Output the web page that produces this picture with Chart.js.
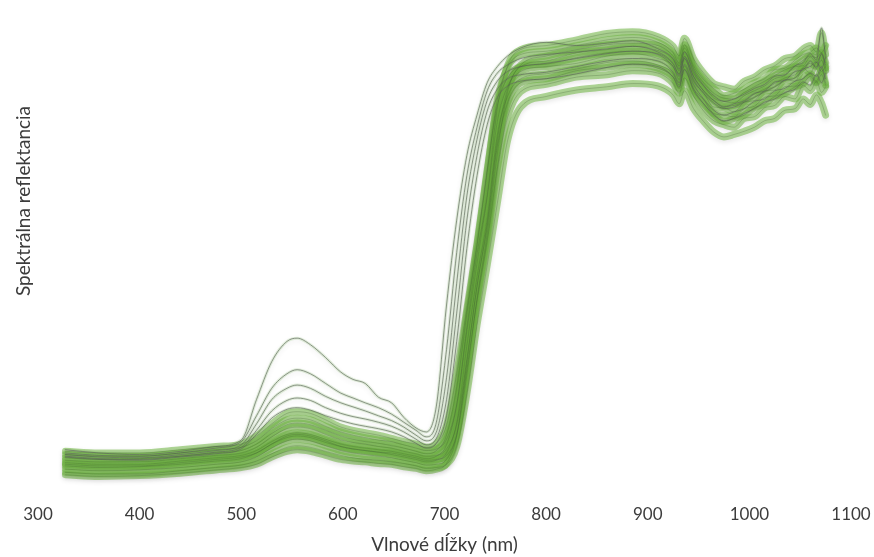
<!DOCTYPE html>
<html>
<head>
<meta charset="utf-8">
<script src="https://cdn.jsdelivr.net/npm/chart.js@4"></script>
<style>body{margin:0;background:#fff}</style>
</head>
<body>
<canvas id="myChart" width="874" height="557"></canvas>
<script>
const wavelengths = [327,360,400,440,475,500,515,530,545,555,568,583,598,610,622,635,648,660,672,682,692,702,712,722,732,742,752,762,775,800,830,860,885,910,925,931,936,945,955,965,975,985,995,1005,1015,1025,1035,1045,1053,1060,1066,1071,1075];
const xTickValues = [300,400,500,600,700,800,900,1000,1100];

// leaves in the main green band
const band1 = [0.028,0.026,0.026,0.030,0.034,0.037,0.042,0.051,0.059,0.061,0.059,0.054,0.049,0.046,0.044,0.043,0.041,0.039,0.036,0.033,0.034,0.038,0.060,0.125,0.210,0.284,0.361,0.438,0.480,0.493,0.501,0.505,0.509,0.506,0.495,0.484,0.500,0.478,0.462,0.449,0.443,0.446,0.450,0.455,0.463,0.466,0.476,0.478,0.490,0.483,0.495,0.485,0.470];
const band2 = [0.032,0.030,0.031,0.034,0.038,0.041,0.047,0.058,0.067,0.069,0.067,0.061,0.055,0.052,0.050,0.048,0.046,0.043,0.040,0.037,0.038,0.044,0.075,0.155,0.240,0.314,0.404,0.467,0.499,0.508,0.517,0.520,0.525,0.522,0.509,0.497,0.516,0.494,0.475,0.463,0.458,0.455,0.466,0.468,0.479,0.482,0.493,0.490,0.507,0.500,0.512,0.498,0.505];
const band3 = [0.036,0.034,0.035,0.038,0.042,0.045,0.052,0.063,0.073,0.075,0.073,0.067,0.060,0.057,0.055,0.053,0.050,0.047,0.044,0.041,0.043,0.052,0.090,0.184,0.270,0.342,0.446,0.493,0.515,0.521,0.527,0.535,0.537,0.532,0.521,0.507,0.531,0.503,0.489,0.472,0.470,0.468,0.478,0.481,0.492,0.494,0.505,0.506,0.516,0.521,0.512,0.527,0.510];
const band4 = [0.040,0.038,0.038,0.042,0.046,0.049,0.055,0.066,0.075,0.077,0.075,0.069,0.063,0.060,0.058,0.056,0.054,0.051,0.048,0.045,0.048,0.062,0.111,0.203,0.287,0.368,0.462,0.505,0.524,0.530,0.534,0.543,0.546,0.540,0.530,0.514,0.540,0.512,0.497,0.480,0.479,0.474,0.486,0.488,0.500,0.501,0.514,0.512,0.528,0.522,0.535,0.524,0.530];
const band5 = [0.043,0.041,0.041,0.045,0.049,0.052,0.059,0.072,0.082,0.084,0.082,0.075,0.068,0.065,0.063,0.060,0.058,0.054,0.051,0.048,0.049,0.057,0.087,0.168,0.258,0.336,0.439,0.502,0.530,0.537,0.547,0.551,0.555,0.550,0.539,0.525,0.549,0.522,0.506,0.491,0.487,0.485,0.494,0.500,0.506,0.515,0.519,0.530,0.531,0.542,0.535,0.545,0.528];
const band6 = [0.046,0.044,0.045,0.048,0.052,0.055,0.063,0.076,0.087,0.089,0.087,0.080,0.073,0.069,0.066,0.064,0.061,0.058,0.054,0.051,0.055,0.074,0.133,0.224,0.308,0.399,0.489,0.529,0.545,0.549,0.556,0.563,0.566,0.560,0.547,0.534,0.557,0.531,0.514,0.503,0.494,0.497,0.502,0.510,0.515,0.526,0.528,0.538,0.545,0.548,0.553,0.547,0.556];
const band7 = [0.050,0.048,0.048,0.052,0.056,0.059,0.067,0.082,0.093,0.095,0.093,0.085,0.078,0.074,0.071,0.068,0.066,0.062,0.058,0.055,0.057,0.069,0.112,0.208,0.298,0.371,0.479,0.531,0.551,0.556,0.563,0.571,0.573,0.567,0.555,0.543,0.565,0.540,0.522,0.509,0.505,0.502,0.512,0.517,0.526,0.531,0.540,0.543,0.552,0.556,0.548,0.572,0.545];
const band8 = [0.025,0.023,0.024,0.027,0.031,0.034,0.038,0.047,0.054,0.056,0.054,0.049,0.044,0.042,0.041,0.039,0.038,0.035,0.033,0.030,0.032,0.039,0.073,0.164,0.259,0.332,0.431,0.485,0.510,0.515,0.525,0.529,0.533,0.528,0.517,0.503,0.527,0.500,0.484,0.471,0.462,0.466,0.470,0.479,0.484,0.493,0.497,0.505,0.509,0.518,0.510,0.520,0.507];
const band9 = [0.054,0.052,0.052,0.056,0.060,0.063,0.073,0.088,0.101,0.103,0.101,0.093,0.084,0.080,0.077,0.074,0.070,0.066,0.063,0.059,0.064,0.086,0.150,0.230,0.311,0.402,0.482,0.516,0.530,0.533,0.541,0.547,0.549,0.546,0.533,0.521,0.543,0.518,0.500,0.488,0.481,0.482,0.487,0.496,0.502,0.509,0.516,0.520,0.529,0.534,0.530,0.538,0.525];
const band10 = [0.038,0.036,0.036,0.040,0.044,0.047,0.052,0.063,0.071,0.073,0.071,0.065,0.060,0.057,0.055,0.053,0.052,0.049,0.046,0.043,0.044,0.049,0.074,0.148,0.243,0.323,0.422,0.498,0.532,0.543,0.551,0.557,0.559,0.556,0.543,0.531,0.553,0.528,0.510,0.497,0.491,0.490,0.498,0.505,0.512,0.519,0.526,0.531,0.538,0.543,0.541,0.547,0.535];

// leaves with a high green peak (thin grey lines above the band)
const upper1 = [0.056,0.052,0.050,0.054,0.060,0.068,0.118,0.165,0.190,0.194,0.186,0.170,0.152,0.143,0.138,0.121,0.114,0.096,0.083,0.078,0.110,0.235,0.340,0.420,0.470,0.510,0.530,0.543,0.553,0.560,0.556,0.559,0.562,0.552,0.540,0.527,0.548,0.525,0.507,0.494,0.487,0.490,0.496,0.503,0.508,0.518,0.520,0.531,0.535,0.546,0.538,0.578,0.540];
const upper2 = [0.052,0.049,0.048,0.052,0.058,0.066,0.098,0.132,0.150,0.155,0.150,0.138,0.126,0.120,0.114,0.108,0.100,0.090,0.080,0.072,0.090,0.180,0.300,0.395,0.455,0.500,0.522,0.532,0.540,0.545,0.548,0.552,0.555,0.548,0.534,0.520,0.542,0.518,0.500,0.488,0.480,0.484,0.488,0.497,0.500,0.511,0.513,0.524,0.526,0.537,0.528,0.546,0.532];
const upper3 = [0.050,0.047,0.046,0.050,0.055,0.062,0.088,0.118,0.132,0.136,0.132,0.122,0.114,0.109,0.104,0.098,0.092,0.084,0.074,0.067,0.078,0.145,0.262,0.370,0.440,0.488,0.512,0.524,0.530,0.534,0.540,0.546,0.549,0.545,0.530,0.518,0.540,0.514,0.497,0.485,0.478,0.480,0.486,0.492,0.499,0.505,0.513,0.516,0.527,0.530,0.536,0.528,0.541];
const upper4 = [0.048,0.045,0.044,0.048,0.053,0.059,0.080,0.104,0.117,0.120,0.117,0.108,0.101,0.097,0.094,0.090,0.085,0.078,0.069,0.062,0.070,0.118,0.225,0.340,0.420,0.475,0.502,0.515,0.520,0.523,0.530,0.537,0.540,0.537,0.523,0.510,0.533,0.508,0.490,0.476,0.470,0.474,0.478,0.487,0.490,0.500,0.503,0.512,0.515,0.522,0.518,0.530,0.515];
const upper5 = [0.047,0.044,0.043,0.047,0.051,0.057,0.075,0.095,0.106,0.108,0.105,0.098,0.092,0.088,0.085,0.082,0.078,0.072,0.064,0.058,0.064,0.098,0.190,0.305,0.395,0.458,0.492,0.506,0.512,0.515,0.521,0.529,0.533,0.530,0.517,0.505,0.526,0.502,0.484,0.470,0.463,0.466,0.472,0.478,0.486,0.490,0.498,0.502,0.511,0.507,0.520,0.510,0.522];

const bandSeries = [band1, band2, band3, band4, band5, band6, band7, band8, band9, band10];
const upperSeries = [upper1, upper2, upper3, upper4, upper5];

function toPoints(values) {
  return wavelengths.map((w, i) => ({ x: w, y: values[i] }));
}

const datasets = [];
bandSeries.forEach(s => {
  datasets.push({ data: toPoints(s), borderColor: 'rgba(60,88,48,0.38)', borderWidth: 0.7, order: 0 });
  datasets.push({ data: toPoints(s), borderColor: 'rgba(110,180,64,0.55)', borderWidth: 7, order: 1, shadow: true });
});
upperSeries.forEach(s => {
  datasets.push({ data: toPoints(s), borderColor: 'rgba(100,110,95,0.7)', borderWidth: 1, order: 0 });
  datasets.push({ data: toPoints(s), borderColor: 'rgba(160,200,140,0.3)', borderWidth: 3, order: 2, shadow: true });
});

const softShadow = {
  id: 'softShadow',
  beforeDatasetDraw(chart, args) {
    if (!chart.data.datasets[args.index].shadow) return;
    const ctx = chart.ctx;
    ctx.save();
    ctx.shadowColor = 'rgba(0,0,0,0.18)';
    ctx.shadowBlur = 5;
    ctx.shadowOffsetY = 2;
  },
  afterDatasetDraw(chart, args) {
    if (chart.data.datasets[args.index].shadow) chart.ctx.restore();
  }
};

// y title drawn by hand, it sits above the middle of the plot in the original
const yTitle = {
  id: 'yTitle',
  afterDraw(chart) {
    const ctx = chart.ctx;
    ctx.save();
    ctx.translate(24, 201);
    ctx.rotate(-Math.PI / 2);
    ctx.font = '19px Lato';
    ctx.fillStyle = '#3c3c3c';
    ctx.textAlign = 'center';
    ctx.textBaseline = 'middle';
    ctx.fillText('Spektrálna reflektancia', 0, 0);
    ctx.restore();
  }
};

Chart.defaults.font.family = 'Lato';

new Chart(document.getElementById('myChart'), {
  type: 'line',
  data: { datasets: datasets },
  options: {
    responsive: false,
    animation: false,
    layout: { padding: { left: 38, right: 23, top: 10, bottom: 0 } },
    elements: {
      point: { radius: 0 },
      line: { cubicInterpolationMode: 'monotone', borderCapStyle: 'round', borderJoinStyle: 'round' }
    },
    plugins: { legend: { display: false }, tooltip: { enabled: false } },
    scales: {
      x: {
        type: 'linear',
        min: 300,
        max: 1100,
        grid: { display: false },
        border: { display: false },
        afterBuildTicks: axis => { axis.ticks = xTickValues.map(v => ({ value: v })); },
        afterFit: axis => { axis.height = 62; },
        ticks: { padding: 1, color: '#3c3c3c', font: { size: 17 }, maxRotation: 0, callback: v => v },
        title: { display: true, text: 'Vlnové dĺžky (nm)', color: '#3c3c3c', font: { size: 19 }, padding: { top: 0, bottom: 1 } }
      },
      y: {
        display: false,
        min: 0,
        max: 0.6
      }
    }
  },
  plugins: [softShadow, yTitle]
});
</script>
</body>
</html>
